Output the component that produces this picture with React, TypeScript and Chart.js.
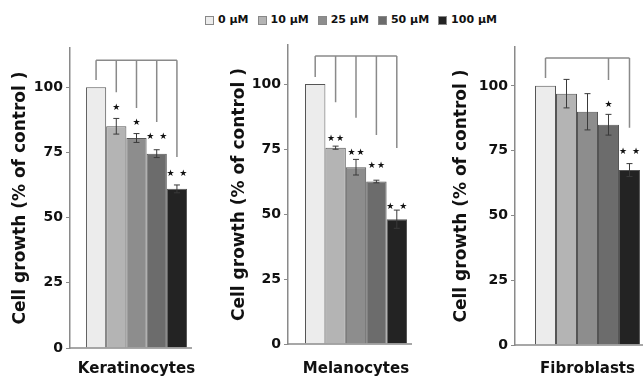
import React, { useEffect, useRef } from 'react';
import { Chart, registerables } from 'chart.js';

Chart.register(...registerables);

// ---------- data ----------
const concentrations = ['0 μM', '10 μM', '25 μM', '50 μM', '100 μM'];
const cellTypes = ['Keratinocytes', 'Melanocytes', 'Fibroblasts'];
const yTicks = [0, 25, 50, 75, 100];
const yAxisTitle = 'Cell growth (% of control )';

const keratinocyteGrowth = [100, 85, 80.5, 74.5, 61];
const keratinocyteError = [0, 3, 1.7, 1.5, 1.5];
const keratinocyteStars = ['', '★', '★', '★ ★', '★ ★'];
const keratinocyteStarLevel = [0, 92, 86.5, 81, 67];
const keratinocyteBracketTop = 110.3;
const keratinocyteBracketEnds = [102.7, 98, 92, 86.6, 73.2];

const melanocyteGrowth = [100, 75.5, 68, 62.5, 48];
const melanocyteError = [0, 0.6, 3, 0.5, 3.5];
const melanocyteStars = ['', '★★', '★★', '★★', '★ ★'];
const melanocyteStarLevel = [0, 79, 73.5, 68.5, 52.7];
const melanocyteBracketTop = 110.8;
const melanocyteBracketEnds = [102.7, 93, 87, 80.4, 75.4];

const fibroblastGrowth = [100, 97, 90, 85, 67.5];
const fibroblastError = [0, 5.5, 7, 4, 2.5];
const fibroblastStars = ['', '', '', '★', '★ ★'];
const fibroblastStarLevel = [0, 0, 0, 92.7, 74.5];
const fibroblastBracketTop = 110.8;
const fibroblastBracketEnds = [103, null, null, 102.3, 83.8];

// ---------- styles ----------
const barColors = ['#ececec', '#b4b4b4', '#8d8d8d', '#6c6c6c', '#232323'];
const FONT = '"DejaVu Sans", "Liberation Sans", Arial, sans-serif';

const annotatePlugin = {
  id: 'annotate',
  afterDatasetsDraw(chart: any, _args: any, opts: any) {
    const ctx = chart.ctx as CanvasRenderingContext2D;
    const y = chart.scales.y;
    const bars = chart.data.datasets.map((_: any, i: number) => chart.getDatasetMeta(i).data[0]);
    ctx.save();
    // x axis line
    const last = bars[bars.length - 1];
    ctx.strokeStyle = '#8a8a8a';
    ctx.lineWidth = 1.5;
    ctx.beginPath();
    ctx.moveTo(chart.chartArea.left, chart.chartArea.bottom);
    ctx.lineTo(last.x + last.width / 2 + 5, chart.chartArea.bottom);
    ctx.stroke();

    // error bars
    ctx.strokeStyle = '#3a3a3a';
    ctx.lineWidth = 1;
    bars.forEach((bar: any, i: number) => {
      const e = opts.error[i];
      if (!e) return;
      const v = opts.growth[i];
      const yt = y.getPixelForValue(v + e);
      const yb = y.getPixelForValue(v - e);
      ctx.beginPath();
      ctx.moveTo(bar.x, yt);
      ctx.lineTo(bar.x, yb);
      ctx.moveTo(bar.x - 3, yt);
      ctx.lineTo(bar.x + 3, yt);
      ctx.moveTo(bar.x - 3, yb);
      ctx.lineTo(bar.x + 3, yb);
      ctx.stroke();
    });

    // bracket
    ctx.strokeStyle = '#8a8a8a';
    ctx.lineWidth = 1.5;
    const topY = y.getPixelForValue(opts.bracketTop);
    const idx = opts.bracketEnds.map((v: any, i: number) => (v == null ? -1 : i)).filter((i: number) => i >= 0);
    ctx.beginPath();
    ctx.moveTo(bars[idx[0]].x, topY);
    ctx.lineTo(bars[idx[idx.length - 1]].x, topY);
    idx.forEach((i: number) => {
      ctx.moveTo(bars[i].x, topY);
      ctx.lineTo(bars[i].x, y.getPixelForValue(opts.bracketEnds[i]));
    });
    ctx.stroke();

    // significance stars
    ctx.fillStyle = '#111';
    ctx.font = `9px ${FONT}`;
    (ctx as any).letterSpacing = '1px';
    ctx.textAlign = 'center';
    ctx.textBaseline = 'middle';
    bars.forEach((bar: any, i: number) => {
      const s = opts.stars[i];
      if (!s) return;
      ctx.fillText(s, bar.x + 0.5, y.getPixelForValue(opts.starLevel[i]));
    });
    ctx.restore();
  },
};

type PanelProps = {
  title: string;
  growth: number[];
  error: number[];
  stars: string[];
  starLevel: number[];
  bracketTop: number;
  bracketEnds: (number | null)[];
  left: number;
  width: number;
  axisWidth: number;
  padTop: number;
  padRight: number;
  xHeight: number;
  titlePad: number;
  groupFraction: number;
};

const CANVAS_TOP = 30;
const CANVAS_HEIGHT = 349;

function Panel(p: PanelProps) {
  const ref = useRef<HTMLCanvasElement>(null);
  useEffect(() => {
    if (!ref.current) return;
    const chart = new Chart(ref.current, {
      type: 'bar',
      data: {
        labels: [p.title],
        datasets: concentrations.map((c, i) => ({
          label: c,
          data: [p.growth[i]],
          backgroundColor: barColors[i],
          borderColor: '#555555',
          borderWidth: 1,
          barPercentage: 1,
          categoryPercentage: p.groupFraction,
        })),
      },
      options: {
        responsive: false,
        animation: false,
        devicePixelRatio: 1,
        layout: { padding: { top: p.padTop, right: p.padRight, left: 0, bottom: 0 } },
        plugins: {
          legend: { display: false },
          tooltip: { enabled: false },
          annotate: {
            growth: p.growth,
            error: p.error,
            stars: p.stars,
            starLevel: p.starLevel,
            bracketTop: p.bracketTop,
            bracketEnds: p.bracketEnds,
          },
        } as any,
        scales: {
          x: {
            type: 'category',
            ticks: { display: false },
            grid: { display: false },
            border: { display: false },
            title: {
              display: true,
              text: p.title,
              color: '#111',
              font: { family: FONT, weight: 'bold', size: 15 },
              padding: { top: 0, bottom: 1 },
            },
            afterFit: (s: any) => {
              s.height = p.xHeight;
            },
          },
          y: {
            min: 0,
            max: 115,
            afterBuildTicks: (s: any) => {
              s.ticks = yTicks.map((v) => ({ value: v }));
            },
            ticks: {
              color: '#111',
              padding: 3,
              font: { family: FONT, weight: 'bold', size: 14 },
            },
            grid: {
              drawOnChartArea: false,
              drawTicks: true,
              tickLength: 4,
              tickColor: '#8a8a8a',
              tickWidth: 1,
            },
            border: { display: true, color: '#8a8a8a', width: 1.5 },
            title: {
              display: true,
              text: yAxisTitle,
              color: '#111',
              font: { family: FONT, weight: 'bold', size: 17 },
              padding: { top: p.titlePad, bottom: 0 },
            },
            afterFit: (s: any) => {
              s.width = p.axisWidth;
            },
          },
        },
      } as any,
      plugins: [annotatePlugin],
    });
    return () => chart.destroy();
  }, []);
  return (
    <canvas
      ref={ref}
      width={p.width}
      height={CANVAS_HEIGHT}
      style={{ position: 'absolute', left: p.left, top: CANVAS_TOP, width: p.width, height: CANVAS_HEIGHT }}
    />
  );
}

function Legend() {
  return (
    <div
      style={{
        position: 'absolute',
        left: 205,
        top: 13,
        display: 'flex',
        alignItems: 'center',
        gap: 9,
        fontFamily: FONT,
        fontWeight: 'bold',
        fontSize: 11,
        lineHeight: '14px',
        color: '#111',
        whiteSpace: 'nowrap',
      }}
    >
      {concentrations.map((c, i) => (
        <div key={c} style={{ display: 'flex', alignItems: 'center', gap: 4 }}>
          <span
            style={{
              display: 'inline-block',
              width: 7,
              height: 7,
              background: barColors[i],
              border: '1px solid #888',
            }}
          />
          <span>{c}</span>
        </div>
      ))}
    </div>
  );
}

export default function App() {
  return (
    <div
      style={{
        position: 'absolute',
        left: 0,
        top: 0,
        width: 643,
        height: 379,
        overflow: 'hidden',
        background: '#fff',
      }}
    >
      <Legend />
      <Panel
        title={cellTypes[0]}
        growth={keratinocyteGrowth}
        error={keratinocyteError}
        stars={keratinocyteStars}
        starLevel={keratinocyteStarLevel}
        bracketTop={keratinocyteBracketTop}
        bracketEnds={keratinocyteBracketEnds}
        left={0}
        width={215}
        axisWidth={70}
        padTop={18}
        padRight={12}
        xHeight={31}
        titlePad={10}
        groupFraction={0.76}
      />
      <Panel
        title={cellTypes[1]}
        growth={melanocyteGrowth}
        error={melanocyteError}
        stars={melanocyteStars}
        starLevel={melanocyteStarLevel}
        bracketTop={melanocyteBracketTop}
        bracketEnds={melanocyteBracketEnds}
        left={215}
        width={215}
        axisWidth={73}
        padTop={15}
        padRight={6}
        xHeight={35}
        titlePad={14}
        groupFraction={0.75}
      />
      <Panel
        title={cellTypes[2]}
        growth={fibroblastGrowth}
        error={fibroblastError}
        stars={fibroblastStars}
        starLevel={fibroblastStarLevel}
        bracketTop={fibroblastBracketTop}
        bracketEnds={fibroblastBracketEnds}
        left={430}
        width={240}
        axisWidth={85}
        padTop={17}
        padRight={10}
        xHeight={34}
        titlePad={21}
        groupFraction={0.724}
      />
    </div>
  );
}
